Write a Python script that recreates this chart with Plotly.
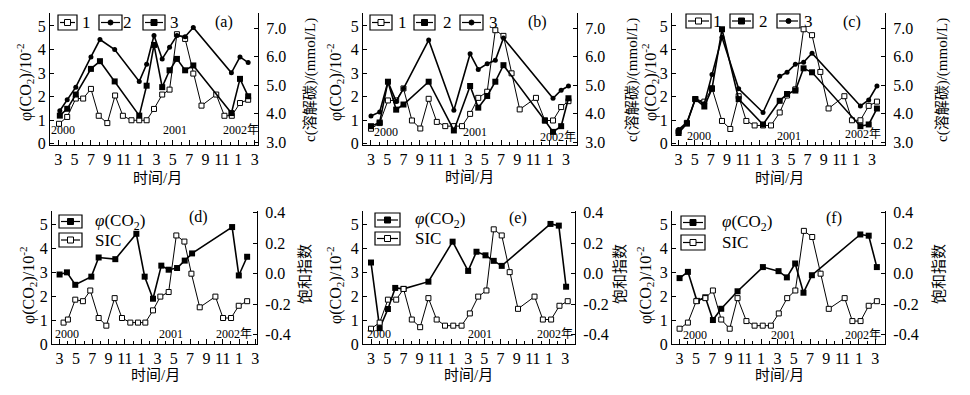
import plotly.graph_objects as go

# x = months counted from March 2000 (0) to March 2002 (24)
MONTH_TICKS = list(range(0, 25, 2))
MONTH_TEXT = ["3", "5", "7", "9", "11", "1", "3", "5", "7", "9", "11", "1", "3"]
MONTH_MINOR = list(range(1, 25, 2))

# panel (a): series 1 on the left axis (10^-2), series 2 and 3 on the right axis (mmol/L)
a_x1 = [0.1, 1.1, 2.15, 3.05, 4.0, 4.95, 6.0, 6.95, 7.9, 8.95, 9.9, 10.8, 11.7, 12.7,
        13.6, 14.5, 15.5, 16.5, 17.5, 19.3, 20.3, 21.2, 22.2, 23.2]
a_s1 = [0.85, 1.14, 1.92, 1.92, 2.33, 1.19, 0.88, 2.05, 1.19, 1.0, 1.0, 1.0, 1.48, 2.09,
        2.3, 4.65, 4.45, 2.98, 1.62, 2.09, 1.19, 1.19, 1.73, 1.87]
a_x23 = [0.2, 1.1, 2.15, 4.0, 5.1, 6.9, 9.9, 10.8, 11.7, 12.7, 13.6, 14.5, 15.5, 16.5,
         21.15, 22.2, 23.2]
a_s2 = [4.10, 4.49, 4.93, 5.99, 6.60, 6.25, 5.13, 5.73, 6.74, 5.92, 6.33, 6.74, 6.70, 7.02,
        5.43, 5.99, 5.79]
a_s3 = [3.93, 4.17, 4.67, 5.57, 5.84, 5.13, 3.93, 4.98, 6.41, 4.93, 5.52, 5.92, 5.52, 5.69,
        4.02, 5.22, 4.61]

# panel (b)
b_x1 = [0, 1.07, 2.09, 3.1, 4.0, 5.04, 6.07, 7.1, 8.1, 9.14, 10.2, 11.2, 12.2, 13.2,
        14.3, 15.3, 16.3, 17.3, 18.3, 20.3, 21.4, 22.4, 23.4, 24.3]
b_s1 = [0.64, 0.88, 1.84, 1.84, 2.35, 0.99, 0.65, 1.91, 0.93, 0.75, 0.75, 0.75, 1.27, 1.95,
        2.21, 4.82, 4.58, 2.99, 1.46, 1.95, 0.99, 0.99, 1.56, 1.81]
b_x2 = [0, 1.07, 2.09, 3.1, 4.0, 7.1, 10.2, 12.2, 13.2, 14.3, 15.3, 16.3, 21.4, 22.4, 23.4, 24.3]
b_s2 = [3.56, 3.69, 5.12, 4.14, 4.32, 5.12, 3.41, 4.97, 4.21, 4.62, 5.12, 5.70, 3.76, 3.36, 3.56, 4.54]
b_x3 = [0, 1.07, 2.09, 3.1, 4.0, 7.1, 10.2, 12.2, 13.2, 14.3, 15.3, 16.3, 22.4, 23.4, 24.3]
b_s3 = [3.92, 4.06, 5.12, 4.43, 4.88, 6.58, 4.12, 6.10, 5.55, 5.75, 5.87, 6.65, 4.54, 4.82, 4.97]

# panel (c)
c_x1 = [0, 1.03, 2.07, 3.19, 4.14, 5.38, 6.41, 7.45, 8.4, 9.43, 10.47, 11.46, 12.54, 13.45,
        14.48, 15.5, 16.55, 17.58, 18.6, 20.56, 21.5, 22.55, 23.58, 24.6]
c_s1 = [0.53, 0.89, 1.9, 1.79, 2.36, 0.97, 0.63, 2.02, 0.97, 0.78, 0.78, 0.78, 1.33, 2.05,
        2.31, 4.86, 4.61, 3.05, 1.5, 2.02, 1.0, 1.0, 1.61, 1.79]
c_x23 = [0, 1.03, 2.07, 3.19, 4.14, 5.38, 7.45, 10.47, 12.54, 13.45, 14.48, 15.5, 16.55,
         22.55, 23.58, 24.6]
c_s2 = [3.32, 3.65, 4.51, 4.25, 4.87, 6.96, 4.51, 3.62, 4.45, 4.69, 4.81, 5.59, 5.45, 3.56, 3.62, 4.18]
c_s3 = [3.44, 3.69, 4.51, 4.35, 5.37, 6.68, 4.87, 4.04, 5.31, 5.45, 5.73, 5.80, 6.12, 4.27, 4.48, 4.97]

# panel (d): CO2 on the left axis, saturation index on the right axis
d_xc = [0, 0.9, 1.92, 3.89, 4.79, 6.83, 9.41, 10.43, 11.45, 12.47, 13.37, 14.4, 15.34, 16.24,
        21.15, 21.97, 22.99]
d_co2 = [2.9, 2.99, 2.47, 2.81, 3.61, 3.54, 4.6, 2.81, 1.89, 3.27, 3.1, 3.17, 3.48, 3.78,
         4.88, 2.86, 3.64]
d_xs = [0.49, 1.02, 1.92, 2.86, 3.76, 4.79, 5.73, 6.75, 7.65, 8.67, 9.61, 10.51, 11.45, 12.35,
        13.37, 14.31, 15.3, 16.16, 17.18, 19.1, 20.04, 21.02, 21.96, 22.99]
d_sic = [-0.32, -0.30, -0.17, -0.18, -0.11, -0.29, -0.34, -0.16, -0.29, -0.32, -0.32, -0.32,
         -0.24, -0.15, -0.12, 0.25, 0.21, 0.0, -0.22, -0.15, -0.29, -0.29, -0.21, -0.18]

# panel (e)
e_xc = [0, 1.07, 2.09, 2.99, 4.02, 7.09, 10.08, 12.0, 13.03, 14.14, 15.16, 16.15, 22.17, 23.2, 24.1]
e_co2 = [3.4, 0.66, 1.46, 2.34, 2.3, 2.6, 4.27, 3.05, 3.85, 3.7, 3.47, 3.26, 5.01, 4.94, 2.39]
e_xs = [0, 1.07, 2.09, 3.11, 4.02, 5.04, 6.07, 7.09, 8.11, 9.14, 10.16, 11.19, 12.21, 13.24,
        14.26, 15.16, 16.15, 17.13, 18.16, 20.2, 21.23, 22.25, 23.28, 24.3]
e_sic = [-0.36, -0.32, -0.17, -0.17, -0.10, -0.30, -0.35, -0.16, -0.30, -0.34, -0.34, -0.34,
         -0.26, -0.15, -0.11, 0.29, 0.25, 0.01, -0.23, -0.15, -0.30, -0.30, -0.21, -0.18]

# panel (f)
f_xc = [0, 1.02, 2.13, 3.16, 4.09, 5.11, 7.11, 10.22, 12.14, 13.16, 14.18, 15.2, 16.23,
        22.17, 23.2, 24.2]
f_co2 = [2.75, 3.01, 1.8, 1.95, 1.0, 1.47, 2.2, 3.21, 3.04, 2.78, 3.36, 2.14, 2.87, 4.57, 4.52, 3.21]
f_xs = [0, 1.02, 2.05, 3.16, 4.09, 5.11, 6.15, 7.11, 8.2, 9.2, 10.2, 11.2, 12.17, 13.2, 14.2,
        15.25, 16.27, 17.3, 18.3, 20.25, 21.2, 22.2, 23.2, 24.2]
f_sic = [-0.36, -0.32, -0.18, -0.16, -0.11, -0.30, -0.36, -0.16, -0.31, -0.34, -0.34, -0.34,
         -0.26, -0.16, -0.11, 0.28, 0.24, 0.0, -0.23, -0.16, -0.31, -0.31, -0.21, -0.18]

# the page body has an 8px margin, so the figure is drawn 8px smaller and all
# positions below are given in window pixels and shifted by OFF
OFF = 8
W, H = 970 - OFF, 395 - 2 * OFF
SERIF = "Liberation Serif, Noto Sans CJK SC, serif"


def fx(px):
    return (px - OFF) / W


def fy(py):
    return 1 - (py - OFF) / H


STYLES = {
    "open": dict(line=dict(color="black", width=1),
                 marker=dict(symbol="square", size=5, color="white", line=dict(color="black", width=1))),
    "square": dict(line=dict(color="black", width=1.6),
                   marker=dict(symbol="square", size=6, color="black")),
    "dot": dict(line=dict(color="black", width=1.6),
                marker=dict(symbol="circle", size=5, color="black")),
}

# left, right, top, bottom in pixels, and x range of each panel
PANELS = [
    dict(box=(50, 258, 13, 145), xr=[-1.0, 24.4], top=True, letter="(a)", lpos=(224, 22)),
    dict(box=(363, 577, 13, 145), xr=[-0.98, 25.35], top=True, letter="(b)", lpos=(537, 22)),
    dict(box=(672, 885, 13, 145), xr=[-0.82, 25.6], top=True, letter="(c)", lpos=(852, 22)),
    dict(box=(52, 257, 211, 344), xr=[-0.93, 24.2], top=False, letter="(d)", lpos=(198, 217)),
    dict(box=(363, 575, 211, 344), xr=[-0.99, 25.2], top=False, letter="(e)", lpos=(518, 218)),
    dict(box=(672, 885, 211, 344), xr=[-0.93, 25.2], top=False, letter="(f)", lpos=(834, 218)),
]

# (x, y, style, name, on right axis)
SERIES = [
    [(a_x1, a_s1, "open", "1", False), (a_x23, a_s2, "dot", "2", True), (a_x23, a_s3, "square", "3", True)],
    [(b_x1, b_s1, "open", "1", False), (b_x2, b_s2, "square", "2", True), (b_x3, b_s3, "dot", "3", True)],
    [(c_x1, c_s1, "open", "1", False), (c_x23, c_s2, "square", "2", True), (c_x23, c_s3, "dot", "3", True)],
    [(d_xc, d_co2, "square", "φ(CO2)", False), (d_xs, d_sic, "open", "SIC", True)],
    [(e_xc, e_co2, "square", "φ(CO2)", False), (e_xs, e_sic, "open", "SIC", True)],
    [(f_xc, f_co2, "square", "φ(CO2)", False), (f_xs, f_sic, "open", "SIC", True)],
]

# legend boxes: x0, x1, y0, y1, style, text, text x
LEGENDS = [
    [(58, 77, 15, 30, "open", "1", 86), (99, 122, 15, 30, "dot", "2", 127), (143, 165, 15, 30, "square", "3", 174)],
    [(370, 392, 15, 30, "open", "1", 402), (414, 435, 15, 30, "square", "2", 447), (460, 483, 15, 30, "dot", "3", 493)],
    [(686, 711, 14, 28, "open", "1", 717), (730, 753, 14, 28, "square", "2", 763), (777, 800, 14, 28, "dot", "3", 808)],
    [(59, 82, 215, 228, "square", "<i>φ</i>(CO<sub>2</sub>)", 93), (59, 82, 233, 247, "open", "SIC", 93)],
    [(375, 400, 213, 227, "square", "<i>φ</i>(CO<sub>2</sub>)", 413), (375, 400, 232, 245, "open", "SIC", 413)],
    [(681, 705, 216, 229, "square", "<i>φ</i>(CO<sub>2</sub>)", 720), (681, 705, 235, 250, "open", "SIC", 720)],
]

YEARS = [
    [("2000", 63, 130), ("2001", 175, 130), ("2002年", 241, 130)],
    [("2000", 386, 132), ("2001", 475, 132), ("2002年", 558, 137)],
    [("2000", 699, 136), ("2001", 789, 136), ("2002年", 863, 134)],
    [("2000", 67, 334), ("2001", 171, 334), ("2002年", 234, 334)],
    [("2000", 379, 334), ("2001", 480, 334), ("2002年", 555, 334)],
    [("2000", 695, 335), ("2001", 783, 335), ("2002年", 863, 335)],
]

LEFT_TITLE = [(25, 82), (335, 82), (650, 82), (28, 285), (335, 285), (645, 285)]
RIGHT_TITLE = [(310, 80), (632, 80), (942, 80), (305, 274), (620, 274), (939, 274)]
X_TITLE = [(157, 178), (469, 177), (779, 178), (155, 375), (468, 375), (779, 375)]

fig = go.Figure()
layout = dict(template="none", width=W, height=H, margin=dict(l=0, r=0, t=0, b=0, pad=0),
              paper_bgcolor="white", plot_bgcolor="white", showlegend=False,
              font=dict(family=SERIF, color="black"))
annotations = []
shapes = []

tickfont = dict(family=SERIF, size=16, color="black")
axis_common = dict(showline=True, linecolor="black", linewidth=1.3, ticks="inside",
                   tickcolor="black", tickwidth=1.2, showgrid=False, zeroline=False,
                   automargin=False, tickfont=tickfont)


def ann(text, x, y, size, angle=0, xanchor="center"):
    annotations.append(dict(text=text, x=fx(x), y=fy(y), xref="paper", yref="paper",
                            showarrow=False, textangle=angle, xanchor=xanchor, yanchor="middle",
                            font=dict(family=SERIF, size=size, color="black")))


for i, p in enumerate(PANELS):
    n = i + 1
    r = n + 6
    x0, x1, y0, y1 = p["box"]
    layout["xaxis%d" % n] = dict(axis_common, domain=[fx(x0), fx(x1)], range=p["xr"],
                                 anchor="y%d" % n, ticklen=5, tickmode="array",
                                 tickvals=MONTH_TICKS, ticktext=MONTH_TEXT,
                                 minor=dict(tickvals=MONTH_MINOR, ticks="inside", ticklen=3,
                                            tickcolor="black", tickwidth=1, showgrid=False))
    if p["top"]:
        lrange, rrange = [-0.05, 5.55], [2.9, 7.53]
        rvals, rtext = [3, 4, 5, 6, 7], ["3.0", "4.0", "5.0", "6.0", "7.0"]
        rtitle, rsize = "c(溶解碳)/(mmol/L)", 15
    else:
        lrange, rrange = [0, 5.55], [-0.46, 0.41]
        rvals, rtext = [-0.4, -0.2, 0, 0.2, 0.4], ["-0.4", "-0.2", "0.0", "0.2", "0.4"]
        rtitle, rsize = "饱和指数", 15
    layout["yaxis%d" % n] = dict(axis_common, domain=[fy(y1), fy(y0)], range=lrange,
                                 anchor="x%d" % n, ticklen=4, tickmode="array",
                                 tickvals=[0, 1, 2, 3, 4, 5])
    layout["yaxis%d" % r] = dict(axis_common, domain=[fy(y1), fy(y0)], range=rrange,
                                 anchor="x%d" % n, overlaying="y%d" % n, side="right",
                                 ticklen=4, tickmode="array", tickvals=rvals, ticktext=rtext,
                                 ticklabelstandoff=4)

    for xs, ys, style, name, right in SERIES[i]:
        fig.add_trace(go.Scatter(x=xs, y=ys, name=name, mode="lines+markers",
                                 xaxis="x%d" % n, yaxis="y%d" % (r if right else n),
                                 cliponaxis=False, **STYLES[style]))

    # hand-drawn boxed legend, as in the original
    for bx0, bx1, by0, by1, style, text, tx in LEGENDS[i]:
        cx, cy = (bx0 + bx1) / 2, (by0 + by1) / 2
        shapes.append(dict(type="rect", xref="paper", yref="paper", x0=fx(bx0), x1=fx(bx1),
                           y0=fy(by1), y1=fy(by0), line=dict(color="black", width=1.2),
                           fillcolor="white"))
        shapes.append(dict(type="line", xref="paper", yref="paper", x0=fx(bx0 + 2), x1=fx(bx1 - 2),
                           y0=fy(cy), y1=fy(cy), line=dict(color="black", width=1.2)))
        if style == "dot":
            shapes.append(dict(type="circle", xref="paper", yref="paper", x0=fx(cx - 2.5),
                               x1=fx(cx + 2.5), y0=fy(cy + 2.5), y1=fy(cy - 2.5),
                               fillcolor="black", line=dict(color="black", width=1)))
        else:
            shapes.append(dict(type="rect", xref="paper", yref="paper", x0=fx(cx - 3),
                               x1=fx(cx + 3), y0=fy(cy + 3), y1=fy(cy - 3),
                               fillcolor="white" if style == "open" else "black",
                               line=dict(color="black", width=1)))
        if p["top"]:
            ann(text, tx, cy, 17)
        else:
            ann(text, tx, cy, 17, xanchor="left")

    for text, tx, ty in YEARS[i]:
        ann(text, tx, ty, 12)

    ann(p["letter"], p["lpos"][0], p["lpos"][1], 16)
    ann("φ(CO<sub>2</sub>)/10<sup>-2</sup>", LEFT_TITLE[i][0], LEFT_TITLE[i][1], 16, angle=-90)
    ann(rtitle, RIGHT_TITLE[i][0], RIGHT_TITLE[i][1], rsize, angle=-90)
    ann("时间/月", X_TITLE[i][0], X_TITLE[i][1], 15)

layout["annotations"] = annotations
layout["shapes"] = shapes
fig.update_layout(**layout)
fig.write_html("out.html")
